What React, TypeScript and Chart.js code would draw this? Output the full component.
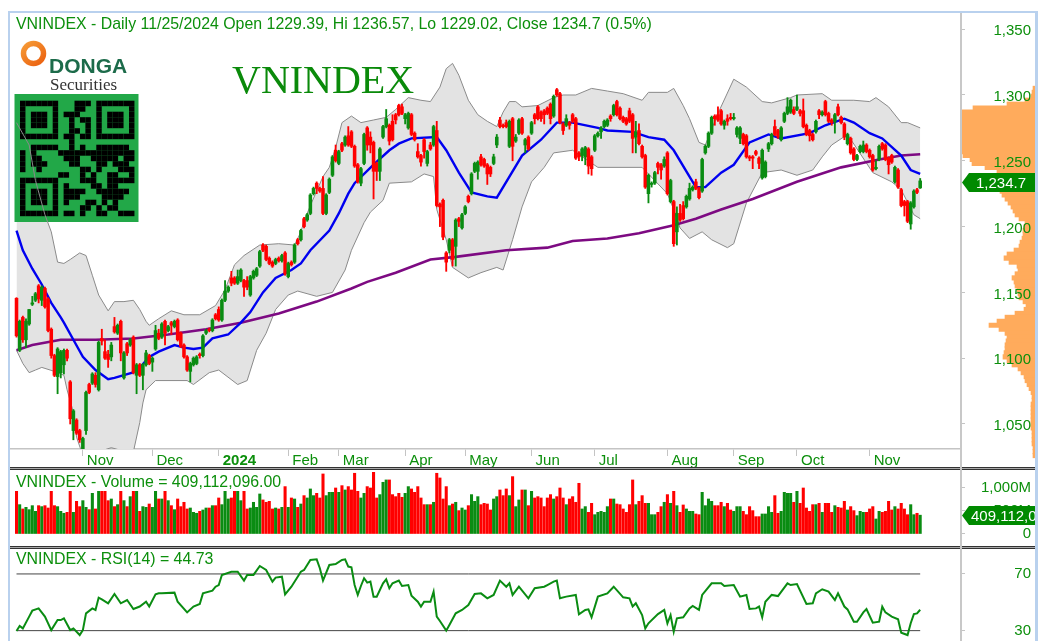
import { useEffect, useRef } from "react";
import { Chart, registerables } from "chart.js";

Chart.register(...registerables);

const W = 1042;
const H = 641;
const GREEN = "#0a8c12";
const RED = "#ff0000";
const TEXT = "#0c8f0c";
const SANS = "'Liberation Sans', Arial, sans-serif";
const SERIF = "'Liberation Serif', 'Times New Roman', serif";

const headerText = "VNINDEX - Daily 11/25/2024 Open 1229.39, Hi 1236.57, Lo 1229.02, Close 1234.7 (0.5%)";
const volumeTitle = "VNINDEX - Volume = 409,112,096.00";
const rsiTitle = "VNINDEX - RSI(14) = 44.73";
const lastPriceLabel = "1,234.7";
const lastVolumeLabel = "409,112,096";

const monthIndex = [21, 43, 64, 86, 102, 123, 142, 163, 183, 206, 227, 247, 270];
const monthLabels = ["Nov", "Dec", "2024", "Feb", "Mar", "Apr", "May", "Jun", "Jul", "Aug", "Sep", "Oct", "Nov"];
const priceTicks = [1050, 1100, 1150, 1200, 1250, 1300, 1350];
const volumeTicks = [0, 500, 1000];
const rsiTicks = [30, 70];

// open, high, low, close for each session
const candles: number[][] = [
  [1145.5,1146,1116,1117],[1106,1129,1105,1128],[1131,1132,1112,1114],[1114,1130,1108,1128],[1126,1137,1125,1137],[1141,1147,1140,1142],[1144,1150,1143,1149],[1155,1156,1142,1145],[1144,1155,1140,1154],[1153,1154,1138,1139],
  [1145,1146,1120,1121],[1122,1123,1100,1102],[1102,1103,1086,1087],[1086,1108,1073,1107],[1089,1106,1085,1105],[1095,1107,1088,1106],[1106,1107,1098,1100],[1082,1083,1050,1054],[1045,1061,1038,1060],[1053,1054,1042,1043],
  [1045,1046,1036,1038],[1030,1040,1025,1039],[1045,1075,1042,1074],[1080,1081,1073,1074],[1081,1089,1080,1088],[1087,1089,1078,1080],[1076,1113,1075,1112],[1115,1122,1110,1113],[1105,1114,1099,1100],[1103,1106,1093,1099],
  [1101,1112,1098,1110],[1124,1131,1119,1120],[1119,1126,1118,1125],[1128,1129,1098,1104],[1085,1105,1084,1104],[1111,1112,1102,1104],[1110,1115,1109,1114],[1116,1117,1088,1089],[1087,1096,1073,1095],[1095,1096,1086,1087],
  [1087,1096,1076,1095],[1095,1106,1094,1104],[1102,1103,1095,1096],[1097,1101,1090,1100],[1107,1125,1106,1121],[1119,1122,1114,1115],[1116,1127,1115,1126],[1128,1129,1110,1119],[1121,1125,1120,1124],[1127,1128,1118,1125],
  [1124,1129,1123,1128],[1129,1130,1113,1114],[1119,1120,1108,1109],[1110,1111,1100,1101],[1101,1102,1090,1091],[1090,1097,1082,1096],[1095,1101,1094,1100],[1096,1102,1095,1101],[1103,1104,1100,1102],[1102,1118,1101,1117],
  [1119,1122,1118,1121],[1122,1123,1120,1121],[1121,1130,1120,1129],[1133,1134,1129,1130],[1137,1139,1128,1129],[1129,1145,1128,1144],[1144,1159,1143,1151],[1151,1155,1150,1154],[1161,1166,1155,1157],[1161,1162,1156,1157],
  [1157,1167,1156,1162],[1159,1168,1158,1167],[1159,1160,1147,1154],[1159,1162,1152,1154],[1148,1163,1147,1162],[1161,1167,1160,1166],[1163,1169,1162,1168],[1170,1182,1169,1181],[1186,1187,1181,1182],[1185,1186,1174,1175],
  [1176,1177,1171,1172],[1173,1174,1169,1170],[1172,1176,1171,1175],[1176,1177,1173,1174],[1174,1179,1173,1178],[1180,1181,1163,1164],[1162,1173,1161,1172],[1173,1174,1170,1171],[1173,1187,1172,1186],[1190,1191,1186,1187],
  [1190,1198,1189,1197],[1206,1207,1199,1200],[1205,1210,1204,1209],[1210,1225,1209,1224],[1225,1230,1224,1229],[1233,1234,1225,1229],[1229,1230,1226,1227],[1229,1238,1209,1210],[1210,1225,1209,1224],[1226,1237,1225,1236],
  [1239,1254,1238,1253],[1258,1262,1249,1250],[1248,1258,1247,1257],[1263,1264,1257,1258],[1262,1269,1261,1268],[1269,1276,1261,1262],[1272,1273,1260,1261],[1261,1262,1245,1246],[1247,1248,1233,1234],[1233,1245,1231,1244],
  [1248,1271,1247,1270],[1275,1276,1258,1262],[1268,1272,1256,1262],[1264,1265,1221,1242],[1248,1249,1235,1242],[1242,1260,1235,1259],[1268,1277,1267,1276],[1276,1289,1275,1282],[1277,1278,1262,1265],[1280,1285,1265,1266],
  [1285,1286,1278,1281],[1292,1293,1284,1285],[1291,1293,1285,1286],[1282,1286,1278,1285],[1275,1287,1274,1286],[1285,1286,1269,1270],[1271,1272,1265,1266],[1257,1263,1252,1253],[1254,1255,1246,1249],[1266,1267,1252,1257],
  [1248,1258,1246,1257],[1262,1264,1258,1259],[1262,1277,1261,1276],[1273,1280,1215,1216],[1217,1218,1200,1215],[1220,1221,1190,1192],[1180,1181,1166,1173],[1182,1191,1180,1190],[1190,1191,1170,1175],[1185,1206,1170,1205],
  [1206,1207,1200,1204],[1199,1210,1198,1209],[1210,1216,1209,1215],[1223,1224,1218,1219],[1225,1241,1224,1240],[1242,1249,1241,1248],[1242,1250,1236,1249],[1253,1255,1246,1247],[1251,1252,1245,1246],[1247,1248,1232,1240],
  [1245,1246,1238,1240],[1248,1255,1247,1253],[1262,1270,1260,1268],[1281,1283,1275,1276],[1277,1278,1275,1276],[1279,1281,1275,1276],[1261,1281,1260,1280],[1282,1283,1250,1261],[1265,1270,1264,1268],[1271,1282,1270,1281],
  [1282,1283,1270,1271],[1262,1267,1256,1266],[1268,1269,1258,1259],[1271,1280,1270,1279],[1285,1286,1278,1282],[1291,1292,1281,1282],[1287,1288,1280,1282],[1288,1289,1278,1285],[1290,1291,1285,1286],[1293,1294,1278,1282],
  [1284,1300,1283,1299],[1304,1305,1299,1300],[1301,1302,1278,1279],[1278,1279,1270,1273],[1277,1285,1276,1282],[1279,1280,1274,1277],[1285,1286,1279,1280],[1282,1283,1251,1252],[1256,1257,1250,1253],[1254,1260,1250,1259],
  [1253,1261,1247,1260],[1259,1260,1240,1246],[1253,1254,1239,1244],[1258,1270,1257,1269],[1269,1272,1268,1271],[1272,1276,1267,1275],[1276,1281,1275,1280],[1277,1282,1276,1281],[1284,1285,1280,1282],[1285,1293,1284,1292],
  [1295,1296,1284,1285],[1290,1291,1281,1282],[1283,1284,1279,1280],[1282,1283,1277,1278],[1288,1290,1279,1280],[1285,1286,1256,1267],[1268,1280,1256,1272],[1273,1278,1262,1263],[1261,1262,1252,1253],[1254,1255,1229,1230],
  [1225,1240,1218,1239],[1232,1234,1230,1233],[1233,1242,1232,1241],[1248,1249,1240,1245],[1247,1248,1236,1243],[1246,1253,1245,1251],[1256,1257,1224,1225],[1219,1236,1218,1235],[1219,1220,1185,1187],[1196,1215,1186,1210],
  [1210,1217,1204,1205],[1216,1219,1205,1206],[1215,1224,1214,1223],[1221,1233,1220,1229],[1228,1231,1227,1230],[1234,1236,1228,1229],[1229,1230,1221,1222],[1227,1252,1226,1251],[1256,1262,1255,1261],[1261,1272,1260,1271],
  [1271,1284,1270,1283],[1284,1285,1277,1282],[1285,1291,1280,1281],[1288,1289,1277,1278],[1277,1281,1274,1280],[1282,1285,1277,1280],[1283,1286,1281,1282],[1282,1286,1281,1283],[1270,1276,1268,1275],[1267,1276,1263,1275],
  [1270,1271,1262,1263],[1269,1270,1252,1253],[1253,1254,1250,1252],[1253,1254,1244,1252],[1257,1258,1254,1255],[1252,1253,1244,1248],[1237,1259,1236,1258],[1238,1250,1237,1249],[1259,1264,1257,1263],[1263,1271,1262,1270],
  [1276,1281,1269,1270],[1273,1274,1267,1268],[1266,1276,1265,1275],[1280,1287,1279,1286],[1286,1298,1285,1291],[1287,1297,1286,1296],[1289,1291,1285,1286],[1289,1300,1288,1291],[1288,1289,1284,1286],[1288,1297,1275,1276],
  [1277,1278,1269,1270],[1273,1274,1265,1269],[1270,1271,1265,1266],[1272,1281,1271,1280],[1288,1289,1282,1285],[1285,1288,1284,1287],[1295,1296,1284,1285],[1286,1287,1279,1280],[1281,1282,1277,1279],[1280,1286,1271,1285],
  [1291,1293,1284,1285],[1283,1284,1278,1279],[1278,1279,1266,1268],[1263,1271,1262,1270],[1267,1268,1255,1256],[1259,1260,1250,1251],[1251,1255,1250,1254],[1257,1262,1256,1261],[1257,1265,1256,1262],[1262,1263,1256,1257],
  [1258,1259,1252,1253],[1254,1255,1242,1243],[1244,1250,1243,1245],[1251,1262,1250,1261],[1263,1264,1258,1259],[1262,1263,1250,1251],[1252,1253,1240,1247],[1254,1255,1248,1249],[1234,1246,1233,1245],[1243,1244,1229,1230],
  [1228,1229,1215,1216],[1219,1220,1208,1216],[1219,1220,1203,1204],[1202,1219,1198,1218],[1215,1228,1214,1227],[1228,1229,1225,1226],[1229.39,1236.57,1229.02,1234.7],
];

// traded volume, millions of shares
const volumes = [
  928,638,544,580,529,616,493,616,595,616, 565,928,616,595,493,450,471,928,471,710,
  595,725,580,529,884,544,928,928,928,725, 761,595,638,928,725,595,812,928,928,493,
  595,580,652,580,928,761,761,928,725,616, 529,761,595,689,544,565,471,450,493,522,
  565,565,616,616,783,638,928,761,783,928, 928,725,928,544,565,689,580,870,740,689,
  710,544,565,544,580,1030,580,783,761,580, 652,834,783,979,834,884,783,1305,834,906,
  906,1000,906,1051,957,
  1030,957,1320,928,783,884,1030,1000,1341,783, 856,1124,1175,1175,856,812,884,798,884,1030,
  979,906,1030,783,638,638,638,689,1320,1218, 761,1030,616,652,689,508,565,522,616,856,
  710,812,638,667,652,522,761,812,957,834, 979,834,1247,595,740,957,957,616,928,783,
  812,783,595,783,856,761,812,1000,783,638, 761,812,689,1102,544,595,471,667,420,471,
  493,471,595,761,761,652,638,544,471,638, 1175,638,710,834,667,667,420,420,471,595,
  689,856,667,928,616,471,631,544,
  493,493,435,420,906,616,761,710,616,616, 689,595,667,522,493,595,595,493,420,595,
  508,377,377,435,435,595,471,834,450,493, 906,884,884,689,928,667,1000,565,493,638,
  638,667,471,667,667,471,616,580,565,710, 522,595,508,399,493,471,471,544,595,326,
  493,471,493,710,522,595,544,667,544,420, 638,420,450,409,
];

const upperDays = [0,4,6,9,11,13,15,17,20,22,24,26,29,31,34,37,39,41,42,45,49,53,58,63,66,69,72,77,83,88,90,91,93,97,99,101,103,106,109,113,117,120,124,128,131,134,136,138,140,143,146,149,152,154,156,158,160,165,170,173,177,182,187,192,198,200,206,208,211,213,216,218,222,227,231,236,239,245,247,255,258,265,270,272,276,280,282,286];
const upperBand = [1279,1262,1235,1209,1196,1173,1172,1175,1180,1178,1163,1148,1136,1143,1143,1144,1137,1128,1125,1130,1136,1133,1133,1140,1152,1171,1178,1186,1187,1186,1196,1204,1216,1238,1245,1260,1279,1284,1279,1281,1283,1289,1298,1296,1295,1306,1320,1324,1315,1296,1285,1280,1276,1287,1295,1295,1291,1292,1298,1300,1300,1305,1303,1301,1296,1302,1302,1305,1292,1282,1264,1262,1286,1312,1306,1295,1294,1298,1300,1301,1296,1296,1295,1298,1291,1279,1279,1275];

const lowerDays = [0,2,4,6,8,12,15,16,18,19,21,23,26,30,33,37,39,40,41,44,54,56,61,64,70,73,76,79,82,86,89,95,100,104,106,110,112,116,118,125,129,132,133,136,138,143,147,152,154,157,160,163,167,170,176,184,191,198,206,208,210,213,217,220,225,227,231,236,242,247,252,255,258,263,271,277,280,284,286];
const lowerBand = [1106,1096,1089,1091,1093,1090,1087,1076,1059,1040,1026,1023,1029,1032,1030,1029,1051,1066,1076,1083,1083,1080,1089,1091,1080,1083,1106,1119,1137,1148,1151,1147,1150,1167,1182,1203,1211,1220,1233,1234,1240,1238,1213,1190,1169,1161,1165,1169,1167,1190,1215,1234,1245,1256,1258,1245,1245,1245,1225,1213,1199,1191,1196,1190,1184,1187,1218,1241,1243,1239,1243,1253,1262,1270,1241,1234,1228,1209,1206];

const ma20Days = [0,2,5,8,11,14,15,18,21,25,29,31,38,42,45,50,53,56,59,62,67,71,74,78,82,87,90,93,99,102,105,107,113,118,121,125,133,136,140,144,149,152,156,160,166,171,176,184,187,195,200,205,208,213,215,218,223,227,232,238,242,251,256,262,265,270,274,280,283,286];
const ma20 = [1197,1182,1168,1156,1142,1131,1127,1114,1101,1091,1084,1085,1090,1101,1105,1110,1108,1107,1108,1115,1118,1127,1135,1150,1161,1167,1172,1182,1197,1210,1225,1233,1247,1258,1263,1267,1268,1258,1241,1226,1223,1222,1238,1254,1266,1279,1279,1275,1273,1272,1268,1266,1258,1238,1230,1230,1241,1247,1264,1270,1267,1271,1277,1282,1279,1271,1267,1254,1243,1240];

const ma200Days = [0,5,14,25,37,48,60,71,83,95,106,111,120,131,139,155,168,176,187,197,208,215,223,233,247,261,273,280,286];
const ma200 = [1106,1110,1114,1114,1115,1118,1122,1127,1134,1143,1153,1158,1165,1175,1177,1182,1184,1189,1191,1195,1201,1206,1213,1221,1234,1245,1251,1254,1255];

const rsiDays = [0,1,2,4,5,7,9,11,13,14,15,17,18,20,21,22,24,25,26,27,29,31,33,35,37,39,41,42,44,45,46,50,51,54,56,58,59,62,63,64,65,68,70,72,73,75,77,79,81,82,84,85,87,90,91,93,95,96,97,99,101,103,104,105,106,107,108,109,110,111,112,113,114,116,117,118,119,121,122,124,125,127,128,129,131,132,133,134,136,137,139,141,143,145,147,149,151,153,155,156,157,159,162,164,167,168,170,171,172,174,177,178,180,181,182,184,187,189,192,194,195,196,198,199,200,203,205,206,207,208,209,211,213,214,216,217,220,223,224,227,229,231,232,234,235,236,237,239,241,244,245,247,250,252,253,255,257,259,260,262,263,265,266,268,269,271,273,274,275,277,279,280,282,283,284,285,286];
const rsiValues = [29.7,33.3,31.6,39.9,44.1,45.7,39.9,30.4,37.5,37.5,38.7,30.4,31.6,26.9,30.4,42.2,45.7,44.6,53.3,52.1,49.3,55.9,49.3,51.6,45.3,47,50.4,47,55.6,56.3,56.3,56.8,50.4,42.9,47,48.8,56.3,58.2,61,62.2,69.3,71.6,71.6,65.3,69.3,69.3,75.6,72.8,64.6,67.4,68.1,55.6,61,71.6,72.8,79.9,80.3,74,65.3,76.3,77,79.9,80.3,75.2,74.7,62.2,55.2,61.5,67,63.9,64.6,54,54,63.4,66.2,59.9,63.4,65.3,61.5,62.2,54.7,50.4,47,50.4,50.4,57.5,39.9,36.8,30,34,42.2,44.6,48.1,55.9,56.3,52.8,55.2,65.3,61,63.4,55.2,61,52.8,59.9,61,62.2,64.6,65.3,52.8,54,55.2,41.5,44.6,45,39.4,54,56.3,61,53.5,52.8,47,49.3,41,31.6,35.2,41.7,44.6,35.2,41,29.3,38.7,39.4,45.7,47.4,44.6,55.2,63.4,63.4,61.5,62.2,54,55.2,45.3,45.7,47,39.4,50.4,55.2,54.4,63.4,62.2,62.9,48.8,49.3,56.3,59.2,57.5,51.6,56.3,47,45,36.3,36.3,42.9,45.3,35.6,36.3,46.9,42.9,39.9,38,28.6,26.9,35.2,41.7,42.2,44.73];

// price-volume profile, one value per 3-point price bin, from 1305 downward
const profileTopPrice = 1305;
const profileStep = 3;
const profileVolume = [2,3,4,10,28,62,74,74,74,74,74,74,74,74,74,74,74,72,65,63,50,38,38,38,38,36,35,33,30,27,24,22,20,16,10,11,12,12,13,15,16,21,28,31,26,18,17,20,23,21,20,18,17,16,12,9,11,20,30,38,46,36,30,28,29,30,30,31,32,28,23,17,14,11,10,8,6,4,3,3,4,4,4,4,4,4,4,3,3,3,3,2,2,2];

const qrRows = [
  "111111100011101111111",
  "100000100011001000001",
  "101110101110001011101",
  "101110100101101011101",
  "101110100100101011101",
  "100000100110101000001",
  "111111101101101111111",
  "000000000100000000000",
  "001111100101001111110",
  "101000011111111111111",
  "101100001110011111011",
  "101110000110001101110",
  "100100000001101000111",
  "000000011001010011001",
  "111111100001110011111",
  "100000101000011011000",
  "101110101111001111110",
  "101110101110000111100",
  "101110101000110101000",
  "100000100001101011000",
  "111111101101001100111",
];

function pairs(xs: number[], ys: number[]) {
  return xs.map((x, i) => ({ x, y: ys[i] }));
}

const candleColors = candles.map((c) => (c[3] >= c[0] ? GREEN : RED));

const xMin = -2.06;
const xMax = 298.6;
const barOpts = { barPercentage: 1, categoryPercentage: 1, grouped: false };

function basePlugins() {
  return { legend: { display: false }, tooltip: { enabled: false }, title: { display: false } };
}

function label(ctx: CanvasRenderingContext2D, text: string, x: number, y: number, font: string, color: string) {
  ctx.save();
  ctx.font = font;
  ctx.fillStyle = color;
  ctx.textAlign = "left";
  ctx.textBaseline = "alphabetic";
  ctx.fillText(text, x, y);
  ctx.restore();
}

function badge(ctx: CanvasRenderingContext2D, text: string, top: number, bottom: number, textX: number) {
  const mid = (top + bottom) / 2;
  ctx.save();
  ctx.beginPath();
  ctx.rect(961, top - 1, 74, bottom - top + 2);
  ctx.clip();
  ctx.fillStyle = "#008a00";
  ctx.beginPath();
  ctx.moveTo(962, mid);
  ctx.lineTo(969, top);
  ctx.lineTo(1035, top);
  ctx.lineTo(1035, bottom);
  ctx.lineTo(969, bottom);
  ctx.closePath();
  ctx.fill();
  ctx.fillStyle = "#ffffff";
  ctx.font = `15px ${SANS}`;
  ctx.textBaseline = "middle";
  ctx.fillText(text, textX, mid + 1);
  ctx.restore();
}

function drawQr(ctx: CanvasRenderingContext2D) {
  ctx.save();
  ctx.fillStyle = "#22a848";
  ctx.fillRect(14.5, 94, 124, 128);
  ctx.fillStyle = "#000000";
  qrRows.forEach((row, r) => {
    [...row].forEach((cell, c) => {
      if (cell === "1") ctx.fillRect(20 + c * 5.45, 100.7 + r * 5.5, 5.45, 5.5);
    });
  });
  ctx.restore();
}

function drawLogo(ctx: CanvasRenderingContext2D) {
  ctx.save();
  const g = ctx.createLinearGradient(22, 40, 44, 67);
  g.addColorStop(0, "#f7a13a");
  g.addColorStop(1, "#ea5b0c");
  ctx.strokeStyle = g;
  ctx.lineWidth = 5.5;
  ctx.beginPath();
  ctx.arc(33.5, 53.5, 10, 0, Math.PI * 2);
  ctx.stroke();
  ctx.restore();
  label(ctx, "DONGA", 49, 72.5, `bold 21px ${SANS}`, "#1c6b4a");
  label(ctx, "Securities", 50, 90, `17px ${SERIF}`, "#333333");
}

function yAxis(min: number, max: number, values: number[], labelOffset: number, fmt: (v: number) => string) {
  return {
    position: "right",
    min,
    max,
    afterBuildTicks: (s: any) => {
      s.ticks = values.map((value) => ({ value }));
    },
    afterFit: (s: any) => {
      s.width = 71;
      s.paddingTop = 0;
      s.paddingBottom = 0;
    },
    grid: { drawOnChartArea: false, drawTicks: true, tickLength: 5, tickColor: "#c4c4c4", color: "#c4c4c4" },
    border: { display: false },
    ticks: {
      callback: (v: number) => fmt(v),
      color: TEXT,
      font: { family: SANS, size: 15 },
      crossAlign: "far",
      padding: 0,
      labelOffset,
      autoSkip: false,
    },
  };
}

export default function App() {
  const profileRef = useRef<HTMLCanvasElement>(null);
  const mainRef = useRef<HTMLCanvasElement>(null);
  const volRef = useRef<HTMLCanvasElement>(null);
  const rsiRef = useRef<HTMLCanvasElement>(null);

  useEffect(() => {
    const profile = new Chart(profileRef.current!, {
      type: "bar",
      data: {
        datasets: [
          {
            data: profileVolume.map((v, i) => ({ x: v, y: profileTopPrice - i * profileStep })),
            backgroundColor: "#ffab5c",
            barThickness: 4.5,
          },
        ],
      },
      options: {
        indexAxis: "y",
        responsive: false,
        animation: false,
        events: [],
        layout: { padding: { left: 961, right: 7, top: 13, bottom: 174 } },
        plugins: basePlugins(),
        scales: {
          x: { type: "linear", reverse: true, min: 0, max: 74, display: false },
          y: { type: "linear", min: 1017.3, max: 1362.3, display: false, offset: false },
        },
      },
    } as any);

    const main = new Chart(mainRef.current!, {
      data: {
        datasets: [
          { type: "line", data: pairs(upperDays, upperBand), borderWidth: 0, pointRadius: 0, fill: "+1", backgroundColor: "#e3e3e3", order: 10 },
          { type: "line", data: pairs(lowerDays, lowerBand), borderWidth: 0, pointRadius: 0, fill: false, order: 10 },
          { type: "line", data: pairs(upperDays, upperBand), borderWidth: 1, borderColor: "#8a8a8a", pointRadius: 0, fill: false, order: 9 },
          { type: "line", data: pairs(lowerDays, lowerBand), borderWidth: 1, borderColor: "#8a8a8a", pointRadius: 0, fill: false, order: 9 },
          { type: "line", data: pairs(ma200Days, ma200), borderWidth: 2.6, borderColor: "#7d0a82", pointRadius: 0, fill: false, order: 8 },
          { type: "line", data: pairs(ma20Days, ma20), borderWidth: 2.4, borderColor: "#0000f0", pointRadius: 0, fill: false, order: 7 },
          {
            type: "bar",
            data: candles.map((c, i) => ({ x: i, y: [c[2], c[1]] })),
            backgroundColor: candleColors,
            barThickness: 1.2,
            order: 2,
            ...barOpts,
          },
          {
            type: "bar",
            data: candles.map((c, i) => ({ x: i, y: [c[0], c[3]] })),
            backgroundColor: candleColors,
            barThickness: 2.9,
            order: 1,
            ...barOpts,
          },
        ],
      },
      options: {
        responsive: false,
        animation: false,
        events: [],
        layout: { padding: { left: 10, right: 11, top: 13, bottom: 174 } },
        plugins: basePlugins(),
        scales: {
          x: {
            type: "linear",
            min: xMin,
            max: xMax,
            offset: false,
            afterBuildTicks: (s: any) => {
              s.ticks = monthIndex.map((value) => ({ value }));
            },
            afterFit: (s: any) => {
              s.height = 18;
              s.paddingLeft = 0;
              s.paddingRight = 0;
            },
            grid: { drawOnChartArea: false, drawTicks: true, tickLength: 7, tickColor: "#c4c4c4", offset: false },
            border: { display: true, color: "#c4c4c4", width: 1.5 },
            ticks: {
              callback: (_v: number, i: number) => monthLabels[i],
              color: TEXT,
              align: "start",
              labelOffset: 4,
              padding: -4,
              maxRotation: 0,
              autoSkip: false,
              font: (c: any) => ({ family: SANS, size: 15, weight: c.tick && c.tick.value === 64 ? "bold" : "normal" }),
            },
          },
          y: yAxis(1031, 1362.3, priceTicks, 2, (v) => v.toLocaleString("en-US")),
        },
      },
      plugins: [
        {
          id: "mainDecor",
          afterDatasetDraw(chart: any, args: any) {
            if (args.index === 0) drawQr(chart.ctx);
          },
          afterDraw(chart: any) {
            const ctx = chart.ctx;
            label(ctx, headerText, 16, 29, `15.9px ${SANS}`, TEXT);
            label(ctx, "VNINDEX", 232, 93, `40px ${SERIF}`, "#0a8a0a");
            drawLogo(ctx);
            badge(ctx, lastPriceLabel, 173, 192, 976);
          },
        },
      ],
    } as any);

    const vol = new Chart(volRef.current!, {
      type: "bar",
      data: {
        datasets: [
          {
            data: volumes.map((v, i) => ({ x: i, y: v })),
            backgroundColor: candleColors,
            barThickness: 2.4,
            ...barOpts,
          },
        ],
      },
      options: {
        responsive: false,
        animation: false,
        events: [],
        layout: { padding: { left: 10, right: 11, top: 470, bottom: 95 } },
        plugins: basePlugins(),
        scales: {
          x: { type: "linear", min: xMin, max: xMax, display: false, offset: false },
          y: yAxis(-261, 1391, volumeTicks, 0, (v) => (v === 0 ? "0" : v >= 1000 ? "1,000M" : `${v}M`)),
        },
      },
      plugins: [
        {
          id: "volDecor",
          afterDraw(chart: any) {
            label(chart.ctx, volumeTitle, 16, 487, `15.9px ${SANS}`, TEXT);
            badge(chart.ctx, lastVolumeLabel, 506, 525, 971);
          },
        },
      ],
    } as any);

    const rsi = new Chart(rsiRef.current!, {
      type: "line",
      data: {
        datasets: [
          { data: [{ x: 0, y: 70 }, { x: 286, y: 70 }], borderColor: "#444444", borderWidth: 1, pointRadius: 0, order: 3 },
          { data: [{ x: 0, y: 30 }, { x: 286, y: 30 }], borderColor: "#444444", borderWidth: 1, pointRadius: 0, order: 2 },
          { data: pairs(rsiDays, rsiValues), borderColor: "#0a8c12", borderWidth: 2, pointRadius: 0, order: 1 },
        ],
      },
      options: {
        responsive: false,
        animation: false,
        events: [],
        layout: { padding: { left: 10, right: 11, top: 549, bottom: 0 } },
        plugins: basePlugins(),
        scales: {
          x: { type: "linear", min: xMin, max: xMax, display: false, offset: false },
          y: yAxis(22.7, 87.6, rsiTicks, 0, (v) => `${v}`),
        },
      },
      plugins: [
        {
          id: "rsiDecor",
          afterDraw(chart: any) {
            label(chart.ctx, rsiTitle, 16, 564, `15.9px ${SANS}`, TEXT);
          },
        },
      ],
    } as any);

    return () => {
      profile.destroy();
      main.destroy();
      vol.destroy();
      rsi.destroy();
    };
  }, []);

  const layer: any = { position: "absolute", left: 0, top: 0, width: W, height: H };
  const rule = (left: number, top: number, width: number, height: number, background: string) => (
    <div style={{ position: "absolute", left, top, width, height, background }} />
  );

  return (
    <div style={{ position: "fixed", left: 0, top: 0, width: W, height: H, background: "#ffffff", overflow: "hidden" }}>
      <canvas ref={profileRef} width={W} height={H} style={layer} />
      <canvas ref={mainRef} width={W} height={H} style={layer} />
      <canvas ref={volRef} width={W} height={H} style={layer} />
      <canvas ref={rsiRef} width={W} height={H} style={layer} />
      {rule(10, 467, 1025, 1, "#333333")}
      {rule(10, 468, 1025, 1, "#a8a8a8")}
      {rule(10, 469, 1025, 1, "#333333")}
      {rule(10, 546, 1025, 1, "#333333")}
      {rule(10, 547, 1025, 1, "#a8a8a8")}
      {rule(10, 548, 1025, 1, "#333333")}
      {rule(960, 13, 2, 628, "#c8c8c8")}
      {rule(8, 11, 1029, 2, "#b9d1ee")}
      {rule(8, 11, 2, 630, "#b9d1ee")}
      {rule(1035, 11, 3, 630, "#b9d1ee")}
    </div>
  );
}
